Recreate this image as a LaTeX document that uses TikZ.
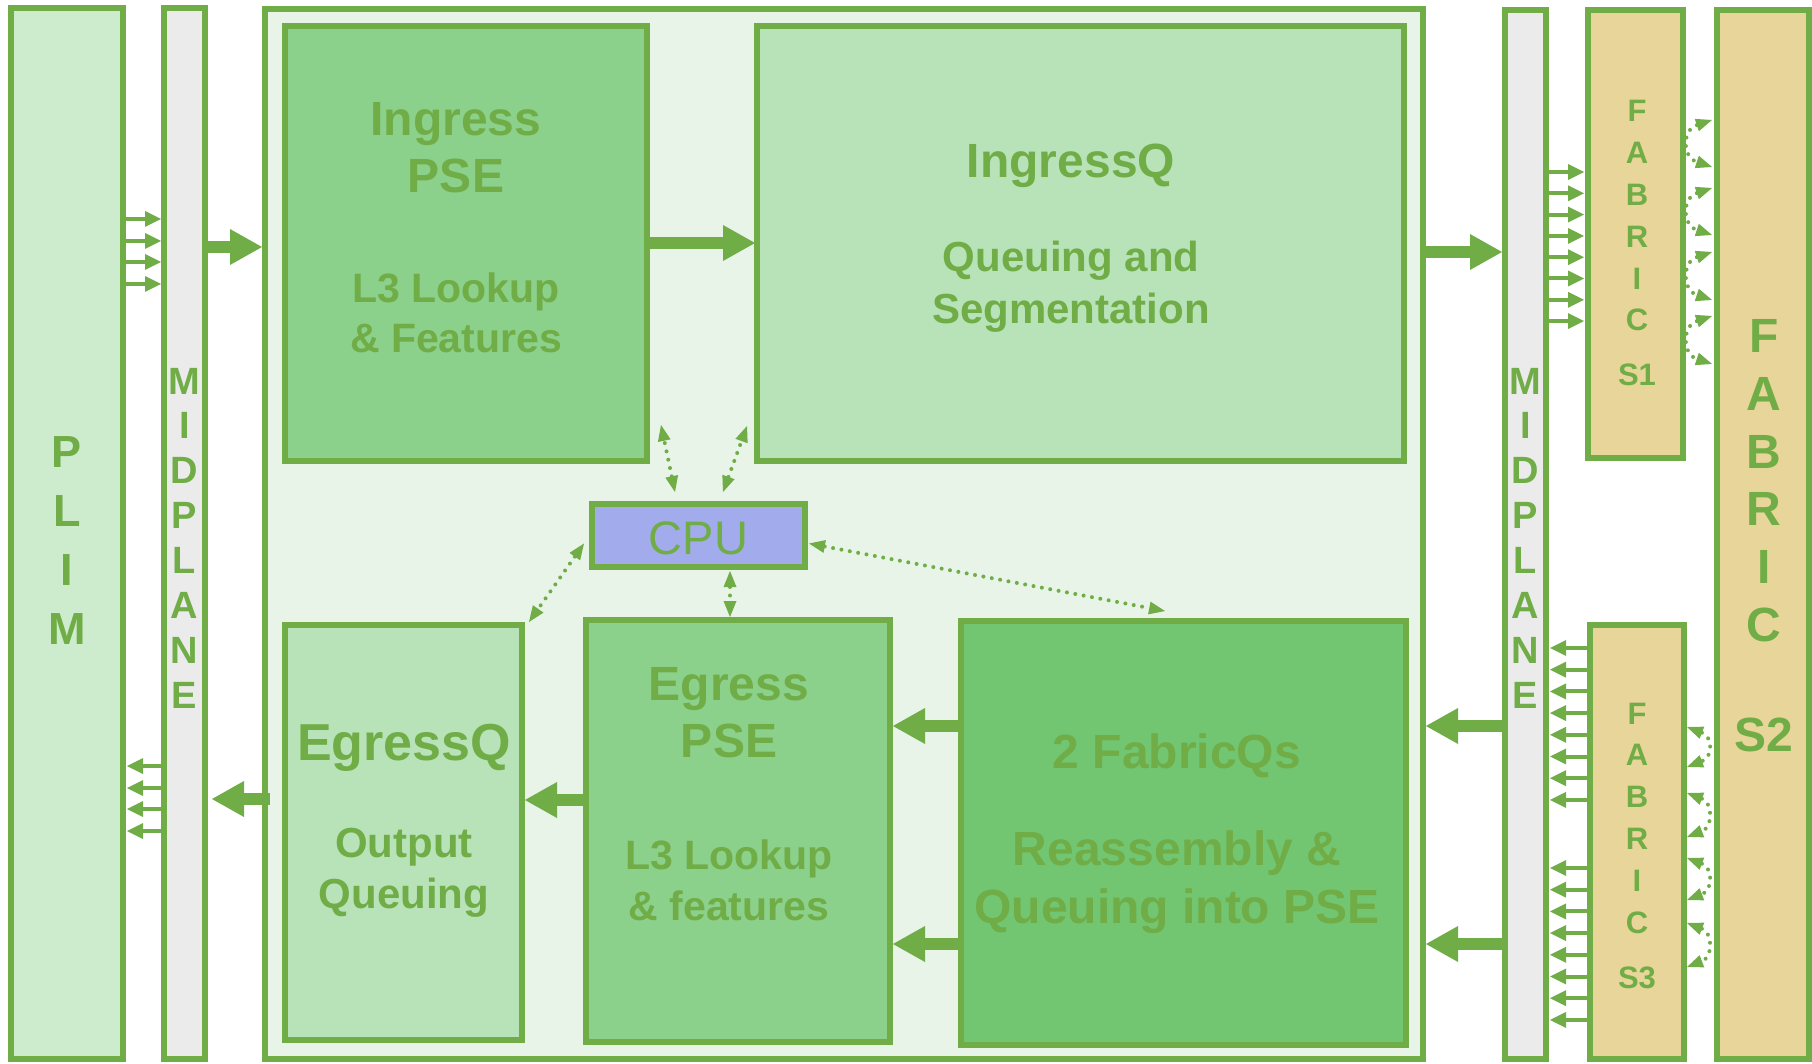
\documentclass[tikz,border=0pt]{standalone}
\usepackage{fontspec}
\setmainfont{Liberation Sans}
\usetikzlibrary{arrows.meta,calc}

\definecolor{lineGreen}{HTML}{70AD47}
\definecolor{plimFill}{HTML}{CDEBCD}
\definecolor{midFill}{HTML}{EBEBEB}
\definecolor{cardFill}{HTML}{E7F4E7}
\definecolor{pseFill}{HTML}{8BD08B}
\definecolor{queueFill}{HTML}{B8E2B8}
\definecolor{fabqFill}{HTML}{72C672}
\definecolor{cpuFill}{HTML}{A2ABEB}
\definecolor{fabFill}{HTML}{E8D59A}

\tikzset{
  box/.style={draw=lineGreen, line width=6pt, rectangle, inner sep=0pt, outer sep=0pt},
  lbl/.style={text=lineGreen, inner sep=0pt, anchor=base},
  bigarrow/.style={draw=lineGreen, line width=12pt,
    -{Triangle[length=32pt,width=36pt,line width=0pt]}},
  smallarrow/.style={draw=lineGreen, line width=4pt,
    -{Triangle[length=16pt,width=16pt,line width=0pt]}},
  dotarrow/.style={draw=lineGreen, line width=4pt, line cap=round,
    dash pattern=on 0pt off 8.5pt,
    {Triangle[length=16pt,width=13pt,line width=0pt]}-{Triangle[length=16pt,width=13pt,line width=0pt]}},
}

\newcommand{\fsz}[1]{\fontsize{#1}{#1}\selectfont}

\begin{document}
\begin{tikzpicture}[x=1pt,y=-1pt]
\useasboundingbox (0,0) rectangle (1812,1064);

% outer columns and line card
\node[box, fill=plimFill,  minimum width=112pt, minimum height=1051pt] (plim) at (67,533.5) {};
\node[box, fill=midFill,   minimum width=41pt,  minimum height=1051pt] (midL) at (184.5,533.5) {};
\node[box, fill=cardFill,  minimum width=1158pt,minimum height=1050pt] (card) at (844,534) {};
\node[box, fill=midFill,   minimum width=41pt,  minimum height=1049pt] (midR) at (1525.5,534.5) {};
\node[box, fill=fabFill,   minimum width=95pt,  minimum height=448pt]  (s1)   at (1635.5,234) {};
\node[box, fill=fabFill,   minimum width=92pt,  minimum height=1049pt] (s2)   at (1763,534.5) {};
\node[box, fill=fabFill,   minimum width=94pt,  minimum height=434pt]  (s3)   at (1637,842) {};

% blocks on the line card
\node[box, fill=pseFill,   minimum width=362pt, minimum height=435pt] (ipse) at (466,243.5) {};
\node[box, fill=queueFill, minimum width=647pt, minimum height=435pt] (iq)   at (1080.5,243.5) {};
\node[box, fill=cpuFill,   minimum width=213pt, minimum height=63pt]  (cpu)  at (698.5,535.5) {};
\node[box, fill=queueFill, minimum width=237pt, minimum height=415pt] (eq)   at (403.5,832.5) {};
\node[box, fill=pseFill,   minimum width=304pt, minimum height=422pt] (epse) at (738,831) {};
\node[box, fill=fabqFill,  minimum width=445pt, minimum height=424pt] (fq)   at (1183.5,833) {};

% block texts
\node[lbl, font=\fsz{48}\bfseries] (ipseA) at (456,136) {Ingress};
\node[lbl, font=\fsz{48}\bfseries] (ipseB) at (456,193) {PSE};
\node[lbl, font=\fsz{41}\bfseries] (ipseC) at (456,303) {L3 Lookup};
\node[lbl, font=\fsz{41}\bfseries] (ipseD) at (456,353) {\& Features};

\node[lbl, font=\fsz{48}\bfseries] (iqA) at (1071,178) {IngressQ};
\node[lbl, font=\fsz{42}\bfseries] (iqB) at (1071,272) {Queuing and};
\node[lbl, font=\fsz{42}\bfseries] (iqC) at (1071,324) {Segmentation};

\node[lbl, font=\fsz{47}] (cpuT) at (698.5,554) {CPU};

\node[lbl, font=\fsz{52}\bfseries] (eqA) at (404,760) {EgressQ};
\node[lbl, font=\fsz{42}\bfseries] (eqB) at (404,857) {Output};
\node[lbl, font=\fsz{42}\bfseries] (eqC) at (404,908) {Queuing};

\node[lbl, font=\fsz{48}\bfseries] (epseA) at (729,700) {Egress};
\node[lbl, font=\fsz{48}\bfseries] (epseB) at (729,757) {PSE};
\node[lbl, font=\fsz{41}\bfseries] (epseC) at (729,869) {L3 Lookup};
\node[lbl, font=\fsz{41}\bfseries] (epseD) at (729,920) {\& features};

\node[lbl, font=\fsz{48}\bfseries] (fqA) at (1177,768) {2 FabricQs};
\node[lbl, font=\fsz{48}\bfseries] (fqB) at (1177,865) {Reassembly \&};
\node[lbl, font=\fsz{48}\bfseries] (fqC) at (1177,923) {Queuing into PSE};

% stacked column captions
\foreach \ch [count=\i from 0] in {P,L,I,M}
  \node[lbl, font=\fsz{45}\bfseries] (plimT\i) at (67,467+59*\i) {\ch};
\foreach \ch [count=\i from 0] in {M,I,D,P,L,A,N,E} {
  \node[lbl, font=\fsz{38}\bfseries] (midLT\i) at (184.5,394+44.9*\i) {\ch};
  \node[lbl, font=\fsz{38}\bfseries] (midRT\i) at (1525.5,394+44.9*\i) {\ch};
}
\foreach \ch [count=\i from 0] in {F,A,B,R,I,C} {
  \node[lbl, font=\fsz{31}\bfseries] (s1T\i) at (1637,122+41.8*\i) {\ch};
  \node[lbl, font=\fsz{31}\bfseries] (s3T\i) at (1637,724+41.8*\i) {\ch};
  \node[lbl, font=\fsz{48}\bfseries] (s2T\i) at (1764,353+57.6*\i) {\ch};
}
\node[lbl, font=\fsz{31}\bfseries] (s1T6) at (1637,385) {S1};
\node[lbl, font=\fsz{31}\bfseries] (s3T6) at (1637,988) {S3};
\node[lbl, font=\fsz{48}\bfseries] (s2T6) at (1764,751) {S2};

% PLIM <-> midplane
\foreach \y in {219,241,262,284}
  \draw[smallarrow] (plim.east |- 0,\y) -- ($(midL.west |- 0,\y)+(-3,0)$);
\foreach \y in {766,788,809,831}
  \draw[smallarrow] ($(midL.west |- 0,\y)+(-3,0)$) -- ($(plim.east |- 0,\y)+(4,0)$);
\draw[bigarrow] ($(midL.east |- 0,247)+(3,0)$) -- ($(card.west |- 0,247)+(-3,0)$);
\draw[bigarrow] ($(card.west |- 0,799)+(5,0)$) -- ($(midL.east |- 0,799)+(7,0)$);

% data path on the line card
\draw[bigarrow] (ipse.east |- 0,243) -- ($(iq.west |- 0,243)+(-2,0)$);
\draw[bigarrow] (card.east |- 0,252) -- ($(midR.west |- 0,252)+(-3,0)$);
\foreach \y in {726,944} {
  \draw[bigarrow] ($(midR.west |- 0,\y)+(-3,0)$) -- ($(card.east |- 0,\y)+(3,0)$);
  \draw[bigarrow] (fq.west |- 0,\y) -- ($(epse.east |- 0,\y)+(3,0)$);
}
\draw[bigarrow] (epse.west |- 0,800) -- ($(eq.east |- 0,800)+(3,0)$);

% midplane <-> fabric cards
\foreach \i in {0,...,7}
  \draw[smallarrow] ($(midR.east |- 0,172+21.3*\i)+(2,0)$) -- ($(s1.west |- 0,172+21.3*\i)+(-4,0)$);
\foreach \i in {0,...,7} {
  \draw[smallarrow] ($(s3.west |- 0,648+21.7*\i)+(-2,0)$) -- ($(midR.east |- 0,648+21.7*\i)+(4,0)$);
  \draw[smallarrow] ($(s3.west |- 0,868+21.7*\i)+(-2,0)$) -- ($(midR.east |- 0,868+21.7*\i)+(4,0)$);
}

% fabric stage links
\foreach \ya/\yb in {120/167,188/235,252/300,316/364}
  \draw[dotarrow] ($(s2.west |- 0,\ya)+(-5,0)$) .. controls +(-30,10) and +(-30,-10) .. ($(s2.west |- 0,\yb)+(-5,0)$);
\foreach \ya/\yb in {727/767,793/837,858/900,923/967}
  \draw[dotarrow] ($(s3.east |- 0,\ya)+(3,0)$) .. controls +(26,10) and +(26,-10) .. ($(s3.east |- 0,\yb)+(3,0)$);

% CPU control links
\draw[dotarrow] ($(cpu.north west)+(83,-12)$) -- ($(ipse.south east)+(14,-36)$);
\draw[dotarrow] ($(cpu.north west)+(131,-12)$) -- ($(iq.south west)+(-10,-35)$);
\draw[dotarrow] ($(cpu.east)+(4,8)$) -- ($(fq.north west)+(204,-10)$);
\draw[dotarrow] ($(cpu.south)+(31.5,4)$) -- ($(epse.north)+(-8,-3)$);
\draw[dotarrow] ($(cpu.west)+(-8,8)$) -- ($(eq.north east)+(7,-3)$);
\end{tikzpicture}
\end{document}
